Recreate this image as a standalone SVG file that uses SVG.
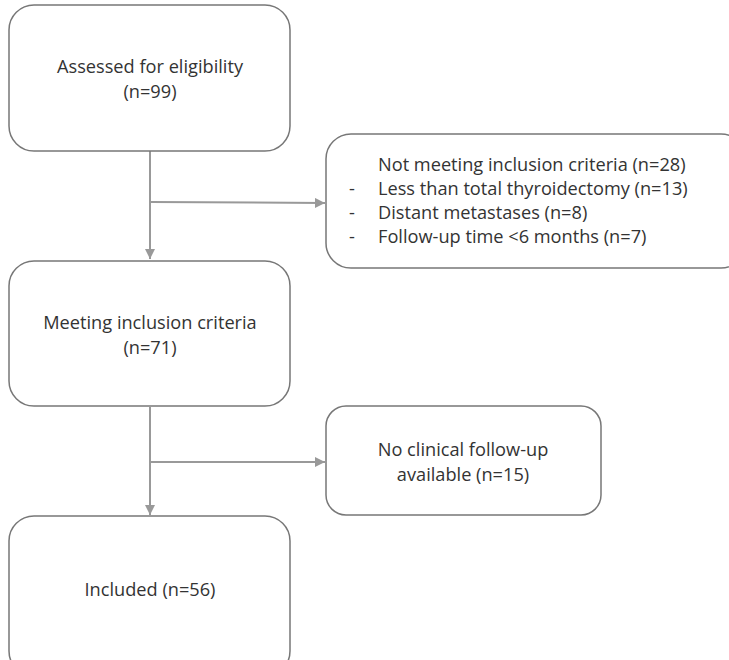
<svg xmlns="http://www.w3.org/2000/svg" width="729" height="660" viewBox="0 0 729 660">
<style>
.box{fill:#fff;stroke:#777;stroke-width:1.5}
.t{font-family:"Open Sans","Liberation Sans",sans-serif;font-size:18.2px;fill:#333}
.c{stroke:#999;stroke-width:2;fill:none}
</style>
<defs>
<marker id="ah" viewBox="0 0 10 10" refX="10" refY="5" markerWidth="5" markerHeight="5" orient="auto" markerUnits="strokeWidth">
<path d="M0,0 L10,5 L0,10 z" fill="#999"/>
</marker>
</defs>
<rect width="729" height="660" fill="#fff"/>
<g id="connectors">
<line class="c" x1="150" y1="151" x2="150" y2="259" marker-end="url(#ah)"/>
<line class="c" x1="150" y1="202" x2="325" y2="203" marker-end="url(#ah)"/>
<line class="c" x1="150" y1="407" x2="150" y2="515" marker-end="url(#ah)"/>
<line class="c" x1="150" y1="462" x2="325" y2="462" marker-end="url(#ah)"/>
</g>
<g id="assessed">
<rect class="box" x="9" y="5" width="281" height="146" rx="25"/>
<text class="t" x="150" y="73" text-anchor="middle">Assessed for eligibility</text>
<text class="t" x="150" y="98" text-anchor="middle">(n=99)</text>
</g>
<g id="excluded1">
<rect class="box" x="326" y="134" width="420" height="134" rx="25"/>
<text class="t" x="378" y="171">Not meeting inclusion criteria (n=28)</text>
<text class="t" x="349" y="195">-</text>
<text class="t" x="378" y="195">Less than total thyroidectomy (n=13)</text>
<text class="t" x="349" y="219">-</text>
<text class="t" x="378" y="219">Distant metastases (n=8)</text>
<text class="t" x="349" y="243">-</text>
<text class="t" x="378" y="243">Follow-up time &lt;6 months (n=7)</text>
</g>
<g id="meeting">
<rect class="box" x="9" y="261" width="281" height="145" rx="25"/>
<text class="t" x="150" y="329" text-anchor="middle">Meeting inclusion criteria</text>
<text class="t" x="150" y="354" text-anchor="middle">(n=71)</text>
</g>
<g id="excluded2">
<rect class="box" x="326" y="406" width="275" height="109" rx="20"/>
<text class="t" x="463" y="456" text-anchor="middle">No clinical follow-up</text>
<text class="t" x="463" y="481" text-anchor="middle">available (n=15)</text>
</g>
<g id="included">
<rect class="box" x="9" y="516" width="281" height="160" rx="25"/>
<text class="t" x="150" y="596" text-anchor="middle">Included (n=56)</text>
</g>
</svg>
